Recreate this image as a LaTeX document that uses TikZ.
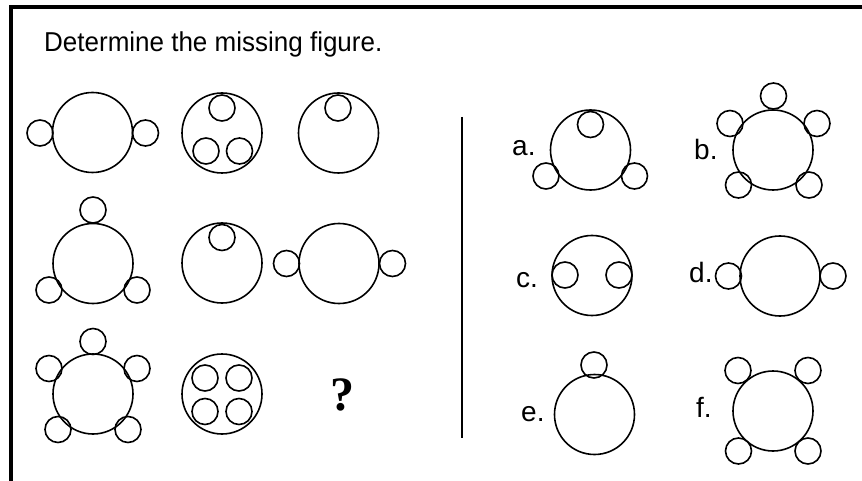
\documentclass[tikz,border=0pt]{standalone}
\usepackage{fontspec}
\setmainfont{Liberation Sans}
\newfontfamily\qfont{Liberation Serif}
\begin{document}
\begin{tikzpicture}[x=1pt,y=-1pt,
  big/.style={circle,draw,line width=1.6pt,minimum size=80pt,inner sep=0pt,outer sep=0pt},
  small/.style={circle,draw,line width=1.6pt,minimum size=26pt,inner sep=0pt,outer sep=0pt},
  lbl/.style={anchor=base west,inner sep=0pt,font=\fontsize{28}{32}\selectfont},
  frame/.style={line width=4pt,line join=miter}]
\useasboundingbox (0,0) rectangle (862,481);
% frame
\coordinate (fb) at (11,481);
\coordinate (fc) at (11,7);
\coordinate (fr) at (862,7);
\draw[frame] (fb) -- (fc) -- (fr);
% title
\node[anchor=base west,inner sep=0pt,font=\fontsize{26}{30}\selectfont,yscale=1.05] (title) at (44,51.7) {Determine the missing figure.};
% row 1
\node[big] (f1) at (92.5,132.5) {};
\node[small] (f1l) at (40,133) {};
\node[small] (f1r) at (145.5,133) {};
\node[big] (f2) at (222,133) {};
\node[small] (f2t) at (222,108) {};
\node[small] (f2l) at (206,151) {};
\node[small] (f2r) at (239.5,151) {};
\node[big] (f3) at (338.5,133) {};
\node[small] (f3t) at (338,108) {};
% row 2
\node[big] (f4) at (93,263.5) {};
\node[small] (f4t) at (93,210) {};
\node[small] (f4l) at (49,290) {};
\node[small] (f4r) at (137,290) {};
\node[big] (f5) at (222,263) {};
\node[small] (f5t) at (222,237.5) {};
\node[big] (f6) at (339,263.5) {};
\node[small] (f6l) at (286.5,263.5) {};
\node[small] (f6r) at (392.5,263.5) {};
% row 3
\node[big] (f7) at (93,394) {};
\node[small] (f7t) at (93,341.5) {};
\node[small] (f7ul) at (49,368.5) {};
\node[small] (f7ur) at (137,368.5) {};
\node[small] (f7ll) at (58,429.5) {};
\node[small] (f7lr) at (128,429.5) {};
\node[big] (f8) at (222,394) {};
\node[small] (f8a) at (205,378) {};
\node[small] (f8b) at (239,378) {};
\node[small] (f8c) at (205,411.5) {};
\node[small] (f8d) at (239,411.5) {};
\node[anchor=base,inner sep=0pt,font=\qfont\bfseries\fontsize{48}{52}\selectfont] (q) at (342,410) {?};
% divider
\coordinate (vt) at (462,117);
\coordinate (vb) at (462,438);
\draw[line width=2.6pt] (vt) -- (vb);
% a
\node[lbl] (la) at (512,156) {a.};
\node[big] (a) at (590.5,150) {};
\node[small] (at) at (590.5,124.5) {};
\node[small] (al) at (546,176) {};
\node[small] (ar) at (634.5,176) {};
% b
\node[lbl] (lb) at (694,160) {b.};
\node[big] (b) at (773,150) {};
\node[small] (bt) at (773.5,96) {};
\node[small] (bul) at (730,123.5) {};
\node[small] (bur) at (817,123.5) {};
\node[small] (bll) at (738.5,185) {};
\node[small] (blr) at (809,185) {};
% c
\node[lbl] (lc) at (516,287) {c.};
\node[big] (c) at (592,275.5) {};
\node[small] (cl) at (565,275) {};
\node[small] (cr) at (619,275) {};
% d
\node[lbl] (ld) at (689,282) {d.};
\node[big] (d) at (780,276) {};
\node[small] (dl) at (728.5,276) {};
\node[small] (dr) at (833,276) {};
% e
\node[lbl] (le) at (521,421) {e.};
\node[big] (e) at (594.5,414.5) {};
\node[small] (et) at (594,365) {};
% f
\node[lbl] (lf) at (696,417) {f.};
\node[big] (f) at (773,411) {};
\node[small] (fa) at (738,370.5) {};
\node[small] (fb2) at (808,370.5) {};
\node[small] (fc2) at (738.5,451) {};
\node[small] (fd) at (808,451) {};
\end{tikzpicture}
\end{document}
